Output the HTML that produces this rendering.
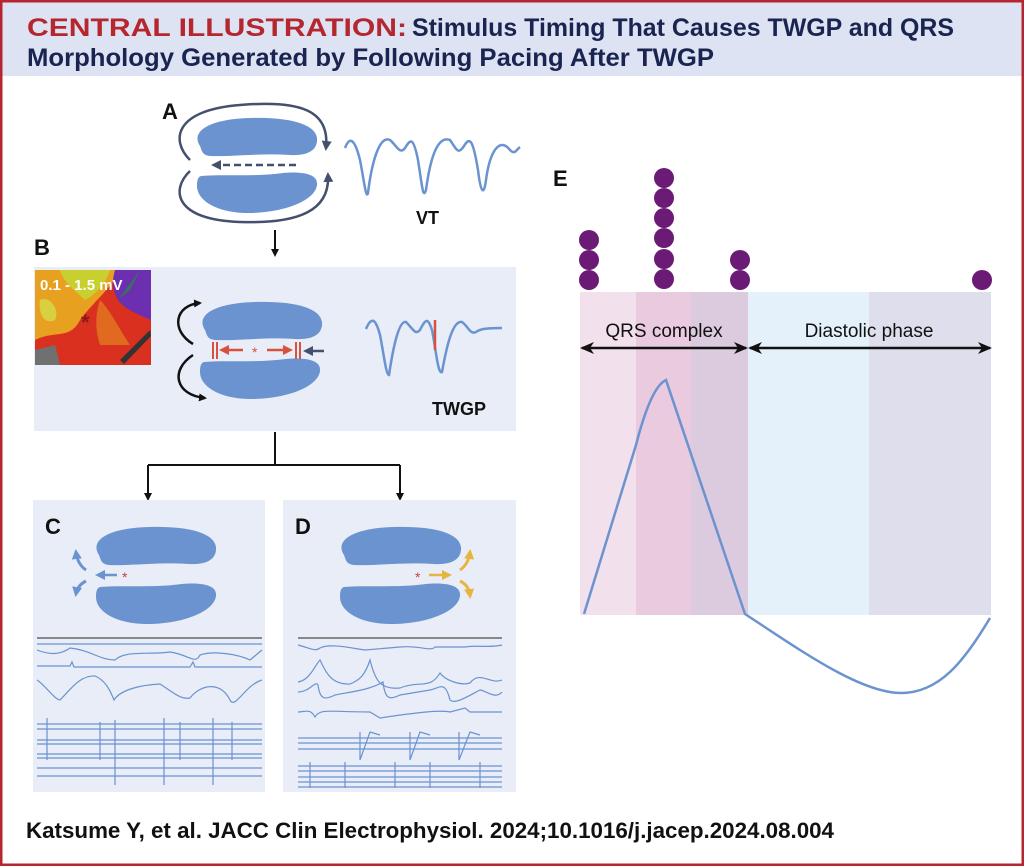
<!DOCTYPE html>
<html><head><meta charset="utf-8"><style>
html,body{margin:0;padding:0;background:#fff}
svg{display:block}
text{font-family:"Liberation Sans Narrow","Liberation Sans",sans-serif}
</style></head><body>
<svg width="1024" height="866" viewBox="0 0 1024 866" xmlns="http://www.w3.org/2000/svg">
<defs>
<marker id="ak" markerWidth="8" markerHeight="8" refX="6" refY="4" orient="auto" markerUnits="userSpaceOnUse"><path d="M0,0 L8,4 L0,8 z" fill="#111"/></marker>
<marker id="ad" markerWidth="10" markerHeight="10" refX="7" refY="5" orient="auto" markerUnits="userSpaceOnUse"><path d="M0,0 L10,5 L0,10 z" fill="#44506e"/></marker>
<marker id="ar" markerWidth="10" markerHeight="10" refX="7" refY="5" orient="auto" markerUnits="userSpaceOnUse"><path d="M0,0 L10,5 L0,10 z" fill="#d8503e"/></marker>
<marker id="ab" markerWidth="10" markerHeight="10" refX="7" refY="5" orient="auto" markerUnits="userSpaceOnUse"><path d="M0,0 L10,5 L0,10 z" fill="#6a93d0"/></marker>
<marker id="ay" markerWidth="10" markerHeight="10" refX="7" refY="5" orient="auto" markerUnits="userSpaceOnUse"><path d="M0,0 L10,5 L0,10 z" fill="#e8b440"/></marker>
<marker id="abk" markerWidth="14" markerHeight="12" refX="12" refY="6" orient="auto" markerUnits="userSpaceOnUse"><path d="M0,0 L14,6 L0,12 L4,6 z" fill="#111"/></marker>
<g id="blobT"><path d="M10,30 C0,15 20,3 60,2 C100,1 125,8 127,22 C128,34 118,40 100,39 C70,37 40,41 20,40 C12,39 12,35 10,30 Z" fill="#6a93d0"/></g>
<g id="blobB"><path d="M8,5 C30,3 60,6 90,2 C115,0 125,5 124,14 C122,30 90,42 55,42 C25,42 4,30 4,15 C4,9 5,6 8,5 Z" fill="#6a93d0"/></g>
</defs>
<rect x="1" y="1" width="1022" height="864" fill="#fff" stroke="#b5262f" stroke-width="3"/>
<rect x="2.5" y="2.5" width="1019" height="73.5" fill="#dde3f3"/>
<text x="27" y="36" font-size="25" font-weight="bold" fill="#b5262f" textLength="380" lengthAdjust="spacingAndGlyphs">CENTRAL ILLUSTRATION:</text>
<text x="412" y="36" font-size="25" font-weight="bold" fill="#1a2450" textLength="542" lengthAdjust="spacingAndGlyphs">Stimulus Timing That Causes TWGP and QRS</text>
<text x="27" y="66" font-size="25" font-weight="bold" fill="#1a2450" textLength="687" lengthAdjust="spacingAndGlyphs">Morphology Generated by Following Pacing After TWGP</text>

<!-- Panel A -->
<text x="162" y="119" font-size="22" font-weight="bold" fill="#111" font-family="Liberation Sans">A</text>
<use href="#blobT" transform="translate(190,116)"/>
<use href="#blobB" transform="translate(193,171)"/>
<path d="M190,160 C170,140 175,110 240,105 C300,100 330,110 326,148" fill="none" stroke="#44506e" stroke-width="2.5" marker-end="url(#ad)"/>
<path d="M190,171 C170,190 175,220 240,222 C300,224 330,210 328,175" fill="none" stroke="#44506e" stroke-width="2.5" marker-end="url(#ad)"/>
<path d="M296,165 L214,165" fill="none" stroke="#44506e" stroke-width="2.5" stroke-dasharray="7,4" marker-end="url(#ad)"/>
<path d="M345,148 C350,135 355,140 360,160 C364,180 366,200 368,193 C372,160 380,135 390,140 C397,146 400,155 405,148 C410,140 413,135 418,160 C422,185 423,200 426,190 C430,160 437,135 450,140 C457,150 458,155 464,146 C470,136 473,140 478,170 C481,195 484,195 486,180 C490,150 500,137 510,150 C515,155 516,150 520,147" fill="none" stroke="#6a93d0" stroke-width="2.5"/>
<text x="416" y="224" font-size="18" font-weight="bold" fill="#111" font-family="Liberation Sans">VT</text>
<line x1="275" y1="230" x2="275" y2="255" stroke="#111" stroke-width="2" marker-end="url(#ak)"/>

<!-- Panel B -->
<text x="34" y="255" font-size="22" font-weight="bold" fill="#111" font-family="Liberation Sans">B</text>
<rect x="34" y="267" width="482" height="164" fill="#e8edf7"/>
<rect x="35" y="270" width="116" height="95" fill="#d93020"/>
<path d="M35,270 L120,270 C110,290 95,300 80,320 C70,340 55,330 35,340 Z" fill="#e8a020"/>
<path d="M60,270 L110,270 C105,285 95,295 85,300 C75,290 65,285 60,270 Z" fill="#c8d030"/>
<path d="M40,300 C50,295 60,310 55,320 C45,325 38,315 40,300 Z" fill="#d8d040"/>
<path d="M115,270 L151,270 L151,320 C140,315 125,310 118,300 C112,290 112,280 115,270 Z" fill="#6b2fb0"/>
<path d="M100,300 C110,310 120,330 130,345 L100,345 C95,330 95,315 100,300 Z" fill="#e06a20"/>
<path d="M118,300 L140,270 L130,290 Z" fill="#3a7060"/>
<path d="M120,360 L150,330 L151,336 L124,364 Z" fill="#333"/>
<path d="M35,350 L55,345 L60,365 L35,365 Z" fill="#707070"/>
<text x="40" y="290" font-size="15" font-weight="bold" fill="#fff" font-family="Liberation Sans">0.1 - 1.5 mV</text>
<text x="81" y="330" font-size="22" font-weight="bold" fill="#8a1a1a" font-family="Liberation Sans">*</text>
<use href="#blobT" transform="translate(195,300)"/>
<use href="#blobB" transform="translate(196,357)"/>
<path d="M193,344 C170,330 175,305 200,303" fill="none" stroke="#111" stroke-width="2.5" marker-end="url(#ak)"/>
<path d="M193,355 C170,370 175,395 205,398" fill="none" stroke="#111" stroke-width="2.5" marker-end="url(#ak)"/>
<line x1="213" y1="342" x2="213" y2="359" stroke="#d8503e" stroke-width="2"/>
<line x1="217" y1="342" x2="217" y2="359" stroke="#d8503e" stroke-width="2"/>
<line x1="296" y1="342" x2="296" y2="359" stroke="#d8503e" stroke-width="2"/>
<line x1="300" y1="342" x2="300" y2="359" stroke="#d8503e" stroke-width="2"/>
<line x1="243" y1="350" x2="222" y2="350" stroke="#d8503e" stroke-width="2.5" marker-end="url(#ar)"/>
<line x1="267" y1="350" x2="290" y2="350" stroke="#d8503e" stroke-width="2.5" marker-end="url(#ar)"/>
<text x="252" y="357" font-size="14" fill="#d8503e">*</text>
<line x1="324" y1="351" x2="306" y2="351" stroke="#44506e" stroke-width="2.5" marker-end="url(#ad)"/>
<path d="M366,329 C372,315 376,320 380,335 C384,355 386,375 389,375 C392,355 398,320 406,322 C414,330 415,335 420,330 C426,318 428,318 432,330 C436,350 438,375 442,372 C446,350 452,320 462,322 C468,326 470,335 476,332 C480,329 486,328 502,328" fill="none" stroke="#6a93d0" stroke-width="2.5"/>
<line x1="435" y1="320" x2="435" y2="350" stroke="#d8503e" stroke-width="2.5"/>
<text x="432" y="415" font-size="18" font-weight="bold" fill="#111" font-family="Liberation Sans">TWGP</text>

<!-- connectors -->
<line x1="275" y1="432" x2="275" y2="465" stroke="#111" stroke-width="2"/>
<line x1="148" y1="465" x2="400" y2="465" stroke="#111" stroke-width="2"/>
<line x1="148" y1="465" x2="148" y2="499" stroke="#111" stroke-width="2" marker-end="url(#ak)"/>
<line x1="400" y1="465" x2="400" y2="499" stroke="#111" stroke-width="2" marker-end="url(#ak)"/>

<!-- Panel C -->
<rect x="33" y="500" width="232" height="292" fill="#e8edf7"/>
<text x="45" y="534" font-size="22" font-weight="bold" fill="#111" font-family="Liberation Sans">C</text>
<use href="#blobT" transform="translate(89,525)"/>
<use href="#blobB" transform="translate(92,582)"/>
<line x1="117" y1="575" x2="98" y2="575" stroke="#6a93d0" stroke-width="2.5" marker-end="url(#ab)"/>
<text x="122" y="582" font-size="14" fill="#c84040">*</text>
<path d="M86,570 C80,566 77,560 76,552" fill="none" stroke="#6a93d0" stroke-width="3" marker-end="url(#ab)"/>
<path d="M86,581 C80,584 77,588 76,594" fill="none" stroke="#6a93d0" stroke-width="3" marker-end="url(#ab)"/>
<g fill="none" stroke="#6a93d0" stroke-width="1.2">
<line x1="37" y1="638" x2="262" y2="638" stroke="#666" stroke-width="1.5"/>
<path d="M37,644 L262,644"/>
<path d="M37,650 C50,655 60,655 70,648 C90,650 100,660 115,660 C125,650 150,655 170,652 C190,655 195,665 200,655 C215,650 240,655 250,660 L262,650"/>
<path d="M37,666 L70,666 L72,662 L74,667 L190,667 L193,662 L195,667 L262,667"/>
<path d="M37,680 C45,685 55,700 60,700 C70,690 80,675 95,676 C105,680 110,690 114,700 C120,690 140,685 160,684 C170,690 180,700 190,698 C200,685 220,680 230,700 C235,710 245,685 262,680"/>
<path d="M37,724 L262,724 M37,729 L262,729 M37,740 L262,740 M37,744 L262,744 M37,754 L262,754 M37,758 L262,758 M37,768 L262,768 M37,776 L262,776"/>
<path d="M115,720 L115,785 M164,718 L164,785 M213,718 L213,785 M47,718 L47,760 M100,722 L100,760 M180,722 L180,760 M232,722 L232,760"/>
</g>

<!-- Panel D -->
<rect x="283" y="500" width="233" height="292" fill="#e8edf7"/>
<text x="295" y="534" font-size="22" font-weight="bold" fill="#111" font-family="Liberation Sans">D</text>
<use href="#blobT" transform="translate(334,525)"/>
<use href="#blobB" transform="translate(336,582)"/>
<line x1="429" y1="575" x2="449" y2="575" stroke="#e8b440" stroke-width="2.5" marker-end="url(#ay)"/>
<text x="415" y="582" font-size="14" fill="#c84040">*</text>
<path d="M460,570 C466,566 469,560 470,552" fill="none" stroke="#e8b440" stroke-width="3" marker-end="url(#ay)"/>
<path d="M460,581 C466,584 469,588 470,596" fill="none" stroke="#e8b440" stroke-width="3" marker-end="url(#ay)"/>
<g fill="none" stroke="#6a93d0" stroke-width="1.2">
<line x1="298" y1="638" x2="502" y2="638" stroke="#666" stroke-width="1.5"/>
<path d="M298,645 C310,648 315,652 320,648 C330,643 350,648 365,650 L400,647 C420,645 430,652 435,647 L465,647 C480,645 490,648 502,645"/>
<path d="M298,682 C310,680 315,665 320,660 C325,670 330,685 350,684 C360,680 365,675 370,660 C375,680 380,690 400,688 C420,680 430,690 440,673 C445,680 460,686 470,683 C480,670 490,685 502,680"/>
<path d="M298,692 C310,692 315,680 318,685 C320,700 325,700 335,695 C350,692 370,690 383,682 C385,700 390,700 400,695 L430,690 C440,688 445,680 450,700 C455,705 470,695 480,690 C485,690 495,700 502,692"/>
<path d="M298,712 C305,712 310,708 315,717 C320,708 330,712 370,712 L380,718 C420,712 440,710 450,712 L465,708 L470,712 L502,712"/>
<path d="M298,738 L502,738 M298,743 L502,743 M298,749 L502,749 M298,766 L502,766 M298,771 L502,771 M298,777 L502,777 M298,782 L502,782 M298,787 L502,787"/>
<path d="M360,732 L360,760 L370,732 L380,735 M410,732 L410,760 L420,732 L430,735 M459,732 L459,760 L470,732 L480,735 M310,762 L310,788 M345,762 L345,788 M395,762 L395,788 M430,762 L430,788 M480,762 L480,788"/>
</g>

<!-- Panel E -->
<text x="553" y="186" font-size="22" font-weight="bold" fill="#111" font-family="Liberation Sans">E</text>
<rect x="580" y="292" width="56" height="323" fill="#f2e0ec"/>
<rect x="636" y="292" width="55" height="323" fill="#e9cadf"/>
<rect x="691" y="292" width="57" height="323" fill="#dccade"/>
<rect x="748" y="292" width="121" height="323" fill="#e4f1fb"/>
<rect x="869" y="292" width="122" height="323" fill="#dfdeed"/>
<g fill="#6b1a75">
<circle cx="589" cy="240" r="10"/><circle cx="589" cy="260" r="10"/><circle cx="589" cy="280" r="10"/>
<circle cx="664" cy="178" r="10"/><circle cx="664" cy="198" r="10"/><circle cx="664" cy="218" r="10"/><circle cx="664" cy="238" r="10"/><circle cx="664" cy="259" r="10"/><circle cx="664" cy="279" r="10"/>
<circle cx="740" cy="260" r="10"/><circle cx="740" cy="280" r="10"/>
<circle cx="982" cy="280" r="10"/>
</g>
<text x="664" y="337" font-size="19" text-anchor="middle" fill="#111">QRS complex</text>
<text x="869" y="337" font-size="19" text-anchor="middle" fill="#111">Diastolic phase</text>
<line x1="664" y1="348" x2="582" y2="348" stroke="#111" stroke-width="2.5" marker-end="url(#abk)"/>
<line x1="664" y1="348" x2="746" y2="348" stroke="#111" stroke-width="2.5" marker-end="url(#abk)"/>
<line x1="869" y1="348" x2="750" y2="348" stroke="#111" stroke-width="2.5" marker-end="url(#abk)"/>
<line x1="869" y1="348" x2="990" y2="348" stroke="#111" stroke-width="2.5" marker-end="url(#abk)"/>
<path d="M584,614 L636,445 C645,410 655,385 666,380 L745,614 C800,650 860,693 901,693 C940,693 965,660 990,618" fill="none" stroke="#6a93d0" stroke-width="2.5"/>

<text x="26" y="838" font-size="22" font-weight="bold" fill="#111" textLength="808" lengthAdjust="spacingAndGlyphs">Katsume Y, et al. JACC Clin Electrophysiol. 2024;10.1016/j.jacep.2024.08.004</text>
</svg>
</body></html>
